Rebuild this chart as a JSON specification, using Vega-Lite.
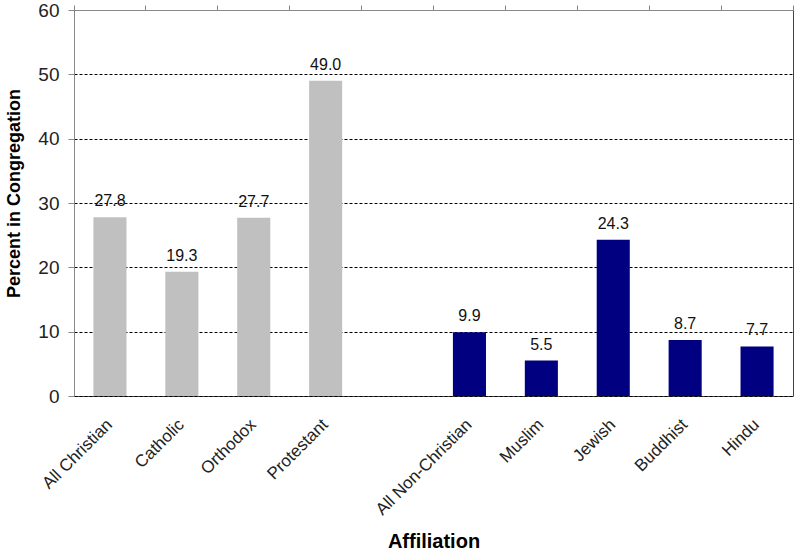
{
  "$schema": "https://vega.github.io/schema/vega-lite/v6.json",
  "autosize": "none",
  "width": 719,
  "height": 386,
  "padding": {"left": 74, "top": 10, "right": 7, "bottom": 159},
  "background": "white",
  "config": {
    "font": "Liberation Sans",
    "view": {"stroke": "#444444", "strokeWidth": 1}
  },
  "data": {
    "values": [
      {"affiliation": "All Christian", "percent": 27.8, "group": "Christian"},
      {"affiliation": "Catholic", "percent": 19.3, "group": "Christian"},
      {"affiliation": "Orthodox", "percent": 27.7, "group": "Christian"},
      {"affiliation": "Protestant", "percent": 49.0, "group": "Christian"},
      {"affiliation": "All Non-Christian", "percent": 9.9, "group": "Non-Christian"},
      {"affiliation": "Muslim", "percent": 5.5, "group": "Non-Christian"},
      {"affiliation": "Jewish", "percent": 24.3, "group": "Non-Christian"},
      {"affiliation": "Buddhist", "percent": 8.7, "group": "Non-Christian"},
      {"affiliation": "Hindu", "percent": 7.7, "group": "Non-Christian"}
    ]
  },
  "resolve": {"axis": {"x": "independent"}},
  "layer": [
    {
      "mark": {"type": "bar", "width": {"band": 0.46}},
      "encoding": {
        "x": {
          "field": "affiliation",
          "type": "nominal",
          "scale": {
            "domain": ["All Christian", "Catholic", "Orthodox", "Protestant", " ", "All Non-Christian", "Muslim", "Jewish", "Buddhist", "Hindu"],
            "paddingInner": 0,
            "paddingOuter": 0
          },
          "axis": {
            "title": "Affiliation",
            "titleFontSize": 20,
            "titleFontWeight": "bold",
            "titleColor": "#000000",
            "titlePadding": 14,
            "labelAngle": -45,
            "labelAlign": "right",
            "labelBaseline": "top",
            "labelFontSize": 17,
            "labelColor": "#222222",
            "labelPadding": 20,
            "labelOffset": -6,
            "ticks": false,
            "tickSize": 0,
            "domain": false,
            "grid": false
          }
        },
        "y": {
          "field": "percent",
          "type": "quantitative",
          "scale": {"domain": [0, 60], "nice": false},
          "axis": {
            "title": "Percent in Congregation",
            "titleFontSize": 18,
            "titleFontWeight": "bold",
            "titleColor": "#000000",
            "titlePadding": 14,
            "titleY": 183,
            "values": [0, 10, 20, 30, 40, 50, 60],
            "labelFontSize": 19,
            "labelColor": "#222222",
            "labelPadding": 9,
            "tickSize": 6,
            "tickColor": "#888888",
            "domainColor": "#888888",
            "grid": true,
            "gridColor": "#000000",
            "gridDash": [3, 2],
            "gridWidth": 1
          }
        },
        "color": {
          "field": "group",
          "type": "nominal",
          "scale": {"domain": ["Christian", "Non-Christian"], "range": ["#C0C0C0", "#000080"]},
          "legend": null
        }
      }
    },
    {
      "mark": {"type": "text", "baseline": "bottom", "dy": -8, "fontSize": 16, "color": "#111111"},
      "encoding": {
        "x": {
          "field": "affiliation",
          "type": "nominal",
          "axis": {
            "title": null,
            "labels": false,
            "ticks": true,
            "tickSize": 5,
            "tickColor": "#888888",
            "bandPosition": 1,
            "tickExtra": true,
            "domain": true,
            "domainColor": "#888888",
            "grid": false
          }
        },
        "y": {"field": "percent", "type": "quantitative"},
        "text": {"field": "percent", "type": "quantitative", "format": ".1f"}
      }
    }
  ]
}
